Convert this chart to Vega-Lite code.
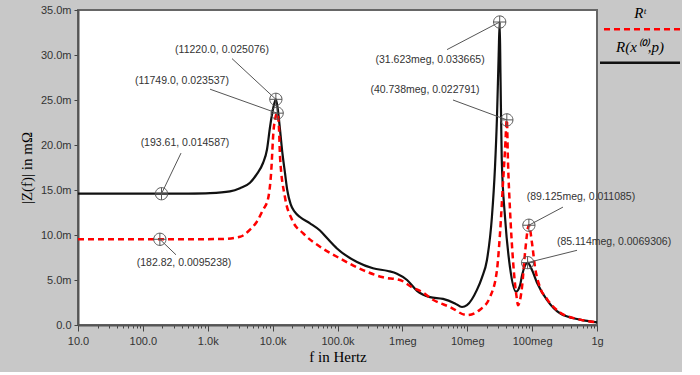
{
  "$schema": "https://vega.github.io/schema/vega-lite/v6.json",
  "padding": {"left": 18, "top": 3, "right": 0, "bottom": 7},
  "background": "#c8c8c8",
  "config": {
    "font": "Liberation Sans",
    "axis": {"labelFont": "Liberation Sans", "labelFontSize": 11, "labelColor": "#333333", "tickColor": "#444444", "tickWidth": 1, "domainColor": "#555555", "domainWidth": 2, "grid": false, "titleFont": "Liberation Serif", "titleFontWeight": "normal", "titleFontSize": 15, "titleColor": "#000000"}
  },
  "datasets": {
    "curves": [
      {"s": "R0", "f": 10, "v": 14.59},
      {"s": "R0", "f": 100, "v": 14.59},
      {"s": "R0", "f": 193.61, "v": 14.587},
      {"s": "R0", "f": 500, "v": 14.6},
      {"s": "R0", "f": 1085, "v": 14.65},
      {"s": "R0", "f": 2200, "v": 14.85},
      {"s": "R0", "f": 3140, "v": 15.2},
      {"s": "R0", "f": 4480, "v": 15.8},
      {"s": "R0", "f": 5740, "v": 16.8},
      {"s": "R0", "f": 7110, "v": 18.0},
      {"s": "R0", "f": 8190, "v": 19.5},
      {"s": "R0", "f": 9120, "v": 22.0},
      {"s": "R0", "f": 10140, "v": 24.0},
      {"s": "R0", "f": 11220, "v": 25.076},
      {"s": "R0", "f": 12000, "v": 24.0},
      {"s": "R0", "f": 13000, "v": 21.7},
      {"s": "R0", "f": 14200, "v": 19.0},
      {"s": "R0", "f": 15500, "v": 16.9},
      {"s": "R0", "f": 16800, "v": 15.0},
      {"s": "R0", "f": 19000, "v": 13.4},
      {"s": "R0", "f": 21800, "v": 12.6},
      {"s": "R0", "f": 26400, "v": 12.0},
      {"s": "R0", "f": 37700, "v": 11.3},
      {"s": "R0", "f": 53700, "v": 10.5},
      {"s": "R0", "f": 70000, "v": 9.6},
      {"s": "R0", "f": 98200, "v": 8.5},
      {"s": "R0", "f": 200000, "v": 7.0},
      {"s": "R0", "f": 352000, "v": 6.3},
      {"s": "R0", "f": 600000, "v": 6.0},
      {"s": "R0", "f": 826000, "v": 5.7},
      {"s": "R0", "f": 1180000, "v": 5.0},
      {"s": "R0", "f": 1680000, "v": 3.8},
      {"s": "R0", "f": 2670000, "v": 3.1},
      {"s": "R0", "f": 4230000, "v": 2.9},
      {"s": "R0", "f": 6470000, "v": 2.4},
      {"s": "R0", "f": 8300000, "v": 2.0},
      {"s": "R0", "f": 9900000, "v": 2.2},
      {"s": "R0", "f": 14100000, "v": 3.9},
      {"s": "R0", "f": 16900000, "v": 5.3},
      {"s": "R0", "f": 20100000, "v": 7.2},
      {"s": "R0", "f": 24000000, "v": 12.0},
      {"s": "R0", "f": 26800000, "v": 17.6},
      {"s": "R0", "f": 28700000, "v": 23.0},
      {"s": "R0", "f": 30500000, "v": 30.0},
      {"s": "R0", "f": 31623000, "v": 33.665},
      {"s": "R0", "f": 32500000, "v": 28.0},
      {"s": "R0", "f": 34000000, "v": 18.5},
      {"s": "R0", "f": 38200000, "v": 12.0},
      {"s": "R0", "f": 45600000, "v": 6.4},
      {"s": "R0", "f": 56500000, "v": 3.7},
      {"s": "R0", "f": 65100000, "v": 4.4},
      {"s": "R0", "f": 69800000, "v": 5.5},
      {"s": "R0", "f": 77700000, "v": 6.6},
      {"s": "R0", "f": 85114000, "v": 6.931},
      {"s": "R0", "f": 99600000, "v": 6.1},
      {"s": "R0", "f": 119000000, "v": 4.7},
      {"s": "R0", "f": 169000000, "v": 2.8},
      {"s": "R0", "f": 269000000, "v": 1.3},
      {"s": "R0", "f": 547000000, "v": 0.6},
      {"s": "R0", "f": 1000000000, "v": 0.3},
      {"s": "Rt", "f": 10, "v": 9.52},
      {"s": "Rt", "f": 182.82, "v": 9.5238},
      {"s": "Rt", "f": 1545, "v": 9.55},
      {"s": "Rt", "f": 3140, "v": 9.8},
      {"s": "Rt", "f": 4480, "v": 10.6},
      {"s": "Rt", "f": 5740, "v": 11.5},
      {"s": "Rt", "f": 7110, "v": 12.8},
      {"s": "Rt", "f": 8490, "v": 14.0},
      {"s": "Rt", "f": 9500, "v": 17.0},
      {"s": "Rt", "f": 10300, "v": 21.5},
      {"s": "Rt", "f": 11000, "v": 23.0},
      {"s": "Rt", "f": 11749, "v": 23.537},
      {"s": "Rt", "f": 12500, "v": 22.0},
      {"s": "Rt", "f": 13000, "v": 18.7},
      {"s": "Rt", "f": 15500, "v": 14.2},
      {"s": "Rt", "f": 19900, "v": 11.7},
      {"s": "Rt", "f": 29400, "v": 10.2},
      {"s": "Rt", "f": 53700, "v": 8.7},
      {"s": "Rt", "f": 109000, "v": 7.4},
      {"s": "Rt", "f": 247000, "v": 6.1},
      {"s": "Rt", "f": 503000, "v": 5.3},
      {"s": "Rt", "f": 918000, "v": 5.0},
      {"s": "Rt", "f": 1410000, "v": 4.2},
      {"s": "Rt", "f": 2080000, "v": 3.6},
      {"s": "Rt", "f": 2970000, "v": 2.8},
      {"s": "Rt", "f": 5420000, "v": 2.0},
      {"s": "Rt", "f": 9900000, "v": 1.1},
      {"s": "Rt", "f": 15700000, "v": 1.7},
      {"s": "Rt", "f": 22400000, "v": 3.1},
      {"s": "Rt", "f": 28700000, "v": 6.1},
      {"s": "Rt", "f": 32000000, "v": 10.2},
      {"s": "Rt", "f": 35600000, "v": 15.8},
      {"s": "Rt", "f": 38200000, "v": 19.4},
      {"s": "Rt", "f": 40738000, "v": 22.791},
      {"s": "Rt", "f": 42500000, "v": 18.0},
      {"s": "Rt", "f": 45600000, "v": 12.8},
      {"s": "Rt", "f": 50700000, "v": 7.2},
      {"s": "Rt", "f": 58500000, "v": 2.8},
      {"s": "Rt", "f": 60500000, "v": 2.2},
      {"s": "Rt", "f": 69800000, "v": 4.2},
      {"s": "Rt", "f": 77700000, "v": 8.0},
      {"s": "Rt", "f": 89125000, "v": 11.085},
      {"s": "Rt", "f": 99600000, "v": 9.1},
      {"s": "Rt", "f": 111000000, "v": 6.4},
      {"s": "Rt", "f": 132000000, "v": 4.2},
      {"s": "Rt", "f": 169000000, "v": 2.9},
      {"s": "Rt", "f": 269000000, "v": 1.4},
      {"s": "Rt", "f": 547000000, "v": 0.6},
      {"s": "Rt", "f": 1000000000, "v": 0.3}
    ],
    "notes": [
      {"f": 193.61, "v": 14.587, "lf": 446, "lv": 20.2, "sf": 387, "sv": 19.1, "label": "(193.61, 0.014587)"},
      {"f": 182.82, "v": 9.5238, "lf": 431, "lv": 6.9, "sf": 324, "sv": 7.8, "label": "(182.82, 0.0095238)"},
      {"f": 11749, "v": 23.537, "lf": 401, "lv": 27.1, "sf": 1084, "sv": 26.2, "label": "(11749.0, 0.023537)"},
      {"f": 11220, "v": 25.076, "lf": 1660, "lv": 30.6, "sf": 2366, "sv": 29.6, "label": "(11220.0, 0.025076)"},
      {"f": 31623000, "v": 33.665, "lf": 2670000, "lv": 29.4, "sf": 4880000, "sv": 30.6, "label": "(31.623meg, 0.033665)"},
      {"f": 40738000, "v": 22.791, "lf": 2230000, "lv": 26.1, "sf": 6030000, "sv": 25.0, "label": "(40.738meg, 0.022791)"},
      {"f": 89125000, "v": 11.085, "lf": 566000000, "lv": 14.2, "sf": 299000000, "sv": 13.1, "label": "(89.125meg, 0.011085)"},
      {"f": 85114000, "v": 6.9306, "lf": 1830000000, "lv": 9.2, "sf": 492000000, "sv": 8.3, "label": "(85.114meg, 0.0069306)"}
    ],
    "legend": [
      {"s": "Rt", "label": "Rᵗ"},
      {"s": "R0", "label": "R(x⁽⁰⁾,p)"}
    ]
  },
  "spacing": 3,
  "bounds": "flush",
  "hconcat": [
    {
      "width": 519,
      "height": 315,
      "view": {"fill": "#ffffff", "stroke": "#666666", "strokeWidth": 2},
      "layer": [
        {
          "data": {"name": "curves"},
          "transform": [{"filter": "datum.s == 'R0'"}],
          "mark": {"type": "line", "color": "#111111", "strokeWidth": 2.2, "interpolate": "monotone"},
          "encoding": {
            "x": {"field": "f", "type": "quantitative", "scale": {"type": "log", "domain": [10, 1000000000], "nice": false},
              "axis": {"values": [10,20,30,40,50,60,70,80,90,100,200,300,400,500,600,700,800,900,1000,2000,3000,4000,5000,6000,7000,8000,9000,10000,20000,30000,40000,50000,60000,70000,80000,90000,100000,200000,300000,400000,500000,600000,700000,800000,900000,1000000,2000000,3000000,4000000,5000000,6000000,7000000,8000000,9000000,10000000,20000000,30000000,40000000,50000000,60000000,70000000,80000000,90000000,100000000,200000000,300000000,400000000,500000000,600000000,700000000,800000000,900000000,1000000000],
                "tickSize": {"condition": {"test": "abs(log(datum.value)/LN10 - round(log(datum.value)/LN10)) < 0.001", "value": 6}, "value": 3},
                "labelPadding": 4, "title": "f in Hertz", "titlePadding": 3, "labelFlush": false, "labelOverlap": false,
                "labelExpr": "abs(log(datum.value)/LN10 - round(log(datum.value)/LN10)) > 0.001 ? '' : datum.value < 50 ? '10.0' : datum.value < 500 ? '100.0' : datum.value < 5000 ? '1.0k' : datum.value < 50000 ? '10.0k' : datum.value < 500000 ? '100.0k' : datum.value < 5000000 ? '1meg' : datum.value < 50000000 ? '10meg' : datum.value < 500000000 ? '100meg' : '1g'"}},
            "y": {"field": "v", "type": "quantitative", "scale": {"domain": [0, 35], "nice": false},
              "axis": {"values": [0, 5, 10, 15, 20, 25, 30, 35], "tickSize": 4, "labelPadding": 3, "title": "|Z(f)| in mΩ", "titlePadding": 6,
                "labelExpr": "datum.value == 0 ? '0.0' : format(datum.value, '.1f') + 'm'"}}
          }
        },
        {
          "data": {"name": "curves"},
          "transform": [{"filter": "datum.s == 'Rt'"}],
          "mark": {"type": "line", "color": "#ff0000", "strokeWidth": 2.5, "strokeDash": [6, 4], "interpolate": "monotone"},
          "encoding": {
            "x": {"field": "f", "type": "quantitative"},
            "y": {"field": "v", "type": "quantitative"}
          }
        },
        {
          "data": {"name": "notes"},
          "mark": {"type": "rule", "color": "#555555", "strokeWidth": 1},
          "encoding": {
            "x": {"field": "sf", "type": "quantitative"},
            "y": {"field": "sv", "type": "quantitative"},
            "x2": {"field": "f"},
            "y2": {"field": "v"}
          }
        },
        {
          "data": {"name": "notes"},
          "mark": {"type": "point", "shape": "M1,0A1,1,0,1,1,-1,0A1,1,0,1,1,1,0M-1,0L1,0M0,-1L0,1", "size": 150, "filled": false, "stroke": "#555555", "strokeWidth": 1, "opacity": 1},
          "encoding": {
            "x": {"field": "f", "type": "quantitative"},
            "y": {"field": "v", "type": "quantitative"}
          }
        },
        {
          "data": {"name": "notes"},
          "mark": {"type": "text", "font": "Liberation Sans", "fontSize": 10.5, "color": "#333333", "align": "center", "baseline": "middle"},
          "encoding": {
            "x": {"field": "lf", "type": "quantitative"},
            "y": {"field": "lv", "type": "quantitative"},
            "text": {"field": "label"}
          }
        }
      ]
    },
    {
      "width": 80,
      "height": 67,
      "view": {"stroke": null},
      "data": {"name": "legend"},
      "layer": [
        {
          "mark": {"type": "text", "font": "Liberation Serif", "fontStyle": "italic", "fontSize": 15, "color": "#000000", "yOffset": -13.5},
          "encoding": {
            "y": {"field": "s", "type": "nominal", "scale": {"type": "band", "domain": ["Rt", "R0"]}, "axis": null},
            "text": {"field": "label"}
          }
        },
        {
          "mark": {"type": "rule", "strokeWidth": 2.5, "yOffset": 2.5},
          "encoding": {
            "y": {"field": "s", "type": "nominal", "scale": {"type": "band", "domain": ["Rt", "R0"]}, "axis": null},
            "color": {"field": "s", "type": "nominal", "scale": {"domain": ["Rt", "R0"], "range": ["#ff0000", "#111111"]}, "legend": null},
            "strokeDash": {"field": "s", "type": "nominal", "scale": {"domain": ["Rt", "R0"], "range": [[6, 4], [1, 0]]}, "legend": null}
          }
        }
      ]
    }
  ]
}
